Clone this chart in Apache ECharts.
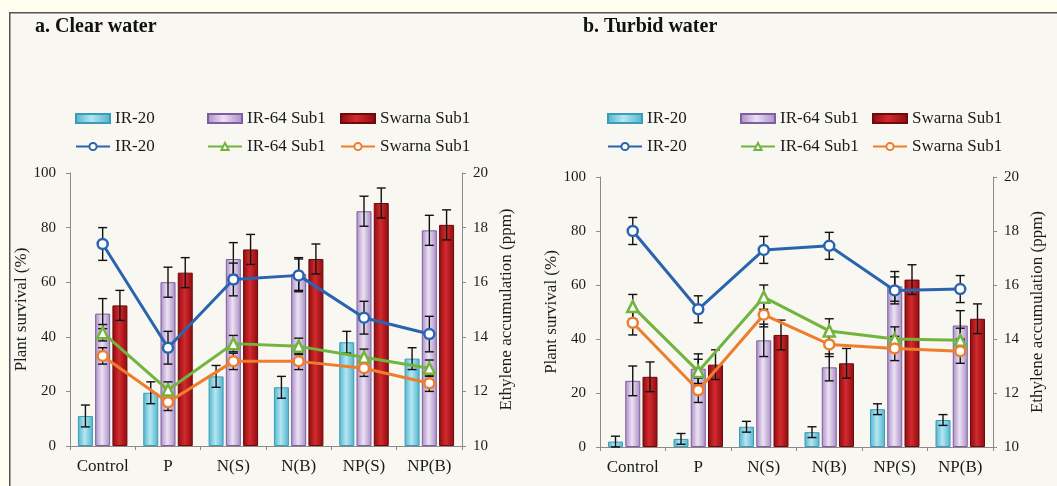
<!DOCTYPE html>
<html><head><meta charset="utf-8">
<script src="https://cdn.jsdelivr.net/npm/echarts@6/dist/echarts.min.js"></script>
<style>html,body{margin:0;padding:0;background:#FFFDEE;} #c{width:1057px;height:486px;}</style>
</head><body><div id="c"></div><script>
// ---------- DATA ----------
const categories = ['Control', 'P', 'N(S)', 'N(B)', 'NP(S)', 'NP(B)'];
const varieties = ['IR-20', 'IR-64 Sub1', 'Swarna Sub1'];
const panelTitles = ['a. Clear water', 'b. Turbid water'];
const leftAxisName = 'Plant survival (%)';
const rightAxisName = 'Ethylene accumulation (ppm)';

// a. Clear water — plant survival (%) bars
const clearSurvivalIR20   = [11, 19.5, 25.5, 21.5, 38, 32];
const clearSurvivalIR64   = [48.5, 60, 68.5, 63, 86, 79];
const clearSurvivalSwarna = [51.5, 63.5, 72, 68.5, 89, 81];
const clearSurvivalErrIR20   = [4, 4, 4, 4, 4, 4];
const clearSurvivalErrIR64   = [5.5, 5.5, 6, 6, 5.5, 5.5];
const clearSurvivalErrSwarna = [5.5, 5.5, 5.5, 5.5, 5.5, 5.5];
// a. Clear water — ethylene (ppm) lines
const clearEthyIR20   = [17.4, 13.6, 16.1, 16.25, 14.7, 14.1];
const clearEthyIR64   = [14.15, 12.05, 13.75, 13.65, 13.25, 12.85];
const clearEthySwarna = [13.3, 11.6, 13.1, 13.1, 12.85, 12.3];
const clearEthyErrIR20   = [0.6, 0.6, 0.6, 0.6, 0.6, 0.65];
const clearEthyErrIR64   = [0.3, 0.3, 0.3, 0.3, 0.3, 0.3];
const clearEthyErrSwarna = [0.3, 0.3, 0.3, 0.3, 0.3, 0.3];

// b. Turbid water — plant survival (%) bars
const turbidSurvivalIR20   = [2, 3, 7.5, 5.5, 14, 10];
const turbidSurvivalIR64   = [24.5, 29, 39.5, 29.5, 59.5, 45];
const turbidSurvivalSwarna = [26, 30.5, 41.5, 31, 62, 47.5];
const turbidSurvivalErrIR20   = [2, 2, 2, 2, 2, 2];
const turbidSurvivalErrIR64   = [5.5, 5.5, 6, 5, 5.5, 5.5];
const turbidSurvivalErrSwarna = [5.5, 5.5, 5.5, 5.5, 5.5, 5.5];
// b. Turbid water — ethylene (ppm) lines
const turbidEthyIR20   = [18, 15.1, 17.3, 17.45, 15.8, 15.85];
const turbidEthyIR64   = [15.2, 12.8, 15.55, 14.3, 14, 13.95];
const turbidEthySwarna = [14.6, 12.1, 14.9, 13.8, 13.65, 13.55];
const turbidEthyErrIR20   = [0.5, 0.5, 0.5, 0.5, 0.5, 0.5];
const turbidEthyErrIR64   = [0.45, 0.45, 0.45, 0.45, 0.45, 0.45];
const turbidEthyErrSwarna = [0.45, 0.45, 0.45, 0.45, 0.45, 0.45];

const survivalTicks = {min: 0, max: 100, interval: 20};
const ethyTicks = {min: 10, max: 20, interval: 2};

// ---------- STYLE ----------
const FONT = '"Liberation Serif", "DejaVu Serif", serif';
const TXT = '#1a1a1a';
const barColors = [
  {edge: '#4FB3CD', mid: '#B4E6F2', border: '#3A9DB8'},
  {edge: '#A88BC6', mid: '#ECE2F3', border: '#7E5EA0'},
  {edge: '#8A0C10', mid: '#D42A2E', border: '#6E0A0C'}
];
const lineColors = ['#2A63AE', '#72B43E', '#EE7E2E'];
const lineSymbols = ['circle', 'triangle', 'circle'];
const BAR_W = 15, BAR_GAP = 0.15;

const panels = [
  {
    surv: [clearSurvivalIR20, clearSurvivalIR64, clearSurvivalSwarna],
    survErr: [clearSurvivalErrIR20, clearSurvivalErrIR64, clearSurvivalErrSwarna],
    ethy: [clearEthyIR20, clearEthyIR64, clearEthySwarna],
    ethyErr: [clearEthyErrIR20, clearEthyErrIR64, clearEthyErrSwarna],
    grid: {left: 70, right: 595, top: 173, bottom: 40},
    titleLeft: 35, legendLefts: [75, 207, 340]
  },
  {
    surv: [turbidSurvivalIR20, turbidSurvivalIR64, turbidSurvivalSwarna],
    survErr: [turbidSurvivalErrIR20, turbidSurvivalErrIR64, turbidSurvivalErrSwarna],
    ethy: [turbidEthyIR20, turbidEthyIR64, turbidEthySwarna],
    ethyErr: [turbidEthyErrIR20, turbidEthyErrIR64, turbidEthyErrSwarna],
    grid: {left: 600, right: 64, top: 177, bottom: 39},
    titleLeft: 583, legendLefts: [607, 740, 872]
  }
];

function errRender(isBar) {
  return function (params, api) {
    const cat = api.value(0), v = api.value(1), e = api.value(2), k = api.value(3);
    const base = api.coord([cat, v]);
    const off = isBar ? (k - 1) * (BAR_W * (1 + BAR_GAP)) : 0;
    const x = base[0] + off;
    const yT = api.coord([cat, v + e])[1];
    const yB = api.coord([cat, v - e])[1];
    const c = 4.5;
    const st = {stroke: '#111', lineWidth: 1.4};
    return {type: 'group', children: [
      {type: 'line', shape: {x1: x, y1: yT, x2: x, y2: yB}, style: st},
      {type: 'line', shape: {x1: x - c, y1: yT, x2: x + c, y2: yT}, style: st},
      {type: 'line', shape: {x1: x - c, y1: yB, x2: x + c, y2: yB}, style: st}
    ]};
  };
}

const grids = [], xAxes = [], yAxes = [], series = [], legends = [], titles = [];
const axisLine = {show: true, lineStyle: {color: '#8a8a8a', width: 1}};
const axisTick = {show: true, length: 4, lineStyle: {color: '#8a8a8a'}};

panels.forEach((P, p) => {
  grids.push(P.grid);
  titles.push({text: panelTitles[p], left: P.titleLeft, top: 17, padding: 0,
    textStyle: {fontFamily: FONT, fontSize: 20, fontWeight: 'bold', color: '#111'}});
  xAxes.push({type: 'category', gridIndex: p, data: categories, boundaryGap: true,
    axisLine: axisLine, axisTick: Object.assign({interval: 0}, axisTick),
    axisLabel: {fontFamily: FONT, fontSize: 17, color: TXT, margin: 12, interval: 0, hideOverlap: false}});
  yAxes.push({type: 'value', gridIndex: p, position: 'left',
    min: survivalTicks.min, max: survivalTicks.max, interval: survivalTicks.interval,
    name: leftAxisName, nameLocation: 'middle', nameGap: 37,
    nameTextStyle: {fontFamily: FONT, fontSize: 17, color: TXT},
    axisLine: axisLine, axisTick: axisTick, splitLine: {show: false},
    axisLabel: {fontFamily: FONT, fontSize: 15, color: TXT, margin: 14}});
  yAxes.push({type: 'value', gridIndex: p, position: 'right',
    min: ethyTicks.min, max: ethyTicks.max, interval: ethyTicks.interval,
    name: rightAxisName, nameLocation: 'middle', nameGap: 36,
    nameTextStyle: {fontFamily: FONT, fontSize: 17, color: TXT},
    axisLine: axisLine, axisTick: axisTick, splitLine: {show: false},
    axisLabel: {fontFamily: FONT, fontSize: 15, color: TXT, margin: 11}});

  varieties.forEach((v, i) => {
    const bc = barColors[i];
    series.push({type: 'bar', name: v + '|bar' + p, xAxisIndex: p, yAxisIndex: 2 * p,
      data: P.surv[i], barWidth: BAR_W, barGap: (BAR_GAP * 100) + '%', z: 1,
      itemStyle: {
        color: {type: 'linear', x: 0, y: 0, x2: 1, y2: 0, colorStops: [
          {offset: 0, color: bc.edge}, {offset: 0.45, color: bc.mid}, {offset: 1, color: bc.edge}]},
        borderColor: bc.border, borderWidth: 1
      }});
  });
  const barErr = [];
  varieties.forEach((v, i) => categories.forEach((c, j) => barErr.push([j, P.surv[i][j], P.survErr[i][j], i])));
  series.push({type: 'custom', xAxisIndex: p, yAxisIndex: 2 * p, data: barErr, z: 3,
    encode: {x: 0, y: 1}, renderItem: errRender(true), silent: true});

  const lineErr = [];
  varieties.forEach((v, i) => categories.forEach((c, j) => lineErr.push([j, P.ethy[i][j], P.ethyErr[i][j], i])));
  series.push({type: 'custom', xAxisIndex: p, yAxisIndex: 2 * p + 1, data: lineErr, z: 3,
    encode: {x: 0, y: 1}, renderItem: errRender(false), silent: true});

  varieties.forEach((v, i) => {
    series.push({type: 'line', name: v + '|line' + p, xAxisIndex: p, yAxisIndex: 2 * p + 1,
      data: P.ethy[i], symbol: lineSymbols[i], symbolSize: lineSymbols[i] === 'triangle' ? 11 : 10, z: 4,
      lineStyle: {color: lineColors[i], width: 3},
      itemStyle: {color: '#ffffff', borderColor: lineColors[i], borderWidth: 2.5}});
  });

  varieties.forEach((v, i) => {
    legends.push({left: P.legendLefts[i], top: 110, orient: 'vertical', itemGap: 11,
      itemWidth: 34, itemHeight: 9, padding: 0, selectedMode: false,
      data: [{name: v + '|bar' + p, icon: 'rect'}, {name: v + '|line' + p}],
      formatter: n => n.split('|')[0],
      textStyle: {fontFamily: FONT, fontSize: 17, color: TXT, lineHeight: 17}});
  });
});

const chart = echarts.init(document.getElementById('c'), null, {renderer: 'canvas'});
chart.setOption({
  backgroundColor: '#FFFDEE',
  animation: false,
  graphic: [{type: 'rect', left: 9, top: 12, shape: {width: 1060, height: 490},
    style: {fill: '#F8F7F1', stroke: '#555', lineWidth: 1.5}, z: -10, silent: true}],
  title: titles, grid: grids, xAxis: xAxes, yAxis: yAxes, legend: legends, series: series
});
</script></body></html>
